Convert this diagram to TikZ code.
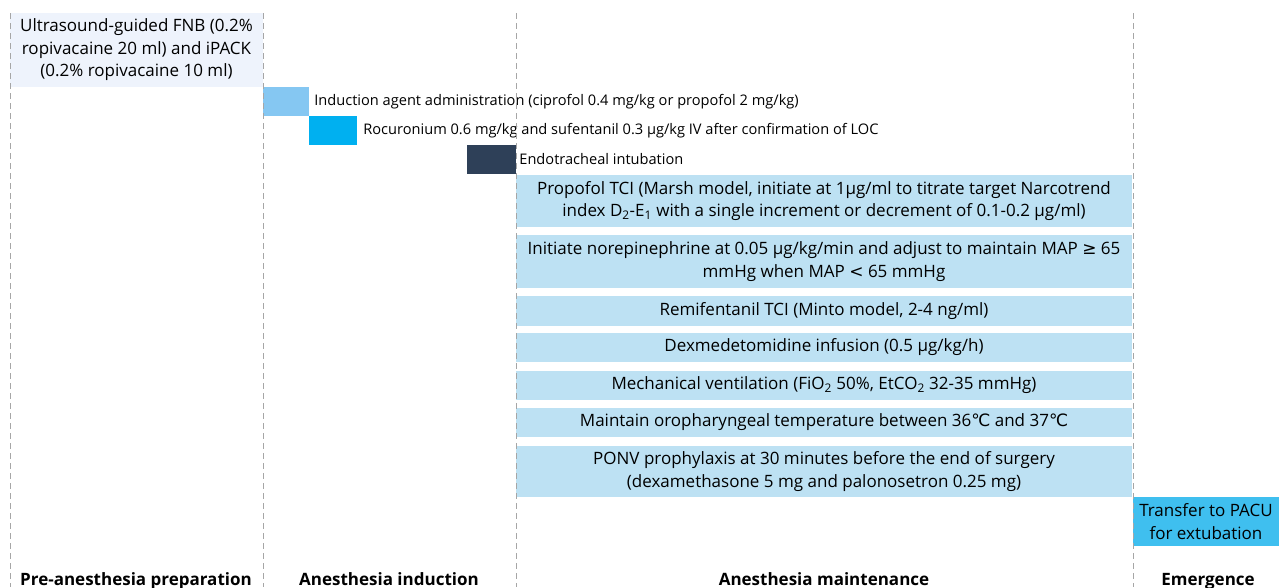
\documentclass[tikz,border=0pt]{standalone}
\usepackage{fontspec}
\setmainfont{Open Sans}
\newfontfamily\symfont{DejaVu Sans}
\usetikzlibrary{positioning}

\definecolor{prepfill}{HTML}{EEF3FC}
\definecolor{inductfill}{HTML}{85C7F2}
\definecolor{rocurfill}{HTML}{00B0F0}
\definecolor{intubfill}{HTML}{2E4058}
\definecolor{maintfill}{HTML}{BDE1F3}
\definecolor{emergfill}{HTML}{3FBFEF}
\definecolor{phaseline}{HTML}{A6A6A6}

\begin{document}
\begin{tikzpicture}[x=1pt,y=-1pt]
\tikzstyle{bar} = [rectangle,draw=none,inner sep=0pt,align=center,font=\fontsize{17}{22.5}\selectfont]
\tikzstyle{maint} = [bar,fill=maintfill,minimum width=616]
\tikzstyle{step label} = [inner sep=0pt,anchor=west,font=\fontsize{14.6}{17}\selectfont]
\tikzstyle{phase} = [inner sep=0pt,anchor=base,font=\fontsize{17}{20}\selectfont\bfseries]

\useasboundingbox (0,0) rectangle (1279,587);

\node[bar,fill=prepfill,minimum width=253,minimum height=74](prep) at (136.5,50)
  {Ultrasound-guided FNB (0.2\%\\ropivacaine 20 ml) and iPACK\\(0.2\% ropivacaine 10 ml)};

\node[bar,fill=inductfill,minimum width=46,minimum height=29](induct) at (286,101.5) {};
\node[step label](inducttext)[right=5pt of induct] {Induction agent administration (ciprofol 0.4 mg/kg or propofol 2 mg/kg)};
\node[bar,fill=rocurfill,minimum width=48,minimum height=29](rocur) at (333,130.5) {};
\node[step label](rocurtext)[right=6pt of rocur] {Rocuronium 0.6 mg/kg and sufentanil 0.3 μg/kg IV after confirmation of LOC};
\node[bar,fill=intubfill,minimum width=49,minimum height=29](intub) at (491.5,159.5) {};
\node[step label](intubtext)[right=3pt of intub] {Endotracheal intubation};

\node[maint,minimum height=52](propofol) at (824,201)
  {Propofol TCI (Marsh model, initiate at 1μg/ml to titrate target Narcotrend\\index D\textsubscript{2}-E\textsubscript{1} with a single increment or decrement of 0.1-0.2 μg/ml)};
\node[maint,minimum height=53](norepi) at (824,261.5)
  {Initiate norepinephrine at 0.05 μg/kg/min and adjust to maintain MAP {\symfont ≥} 65\\mmHg when MAP {\symfont <} 65 mmHg};
\node[maint,minimum height=30](remi) at (824,311) {Remifentanil TCI (Minto model, 2-4 ng/ml)};
\node[maint,minimum height=29](dex) at (824,347.5) {Dexmedetomidine infusion (0.5 μg/kg/h)};
\node[maint,minimum height=29](mech) at (824,385) {Mechanical ventilation (FiO\textsubscript{2} 50\%, EtCO\textsubscript{2} 32-35 mmHg)};
\node[maint,minimum height=29](temp) at (824,422.5) {Maintain oropharyngeal temperature between 36{\symfont ℃} and 37{\symfont ℃}};
\node[maint,minimum height=51](ponv) at (824,471.5)
  {PONV prophylaxis at 30 minutes before the end of surgery\\(dexamethasone 5 mg and palonosetron 0.25 mg)};

\node[bar,fill=emergfill,minimum width=146,minimum height=49](pacu) at (1206,521.5) {Transfer to PACU\\for extubation};

\foreach \x in {10,263,516,1133}
  \draw[phaseline,line width=0.8pt,dash pattern=on 6pt off 4pt] (\x,13) -- (\x,587);

\node[phase](preplabel) at (136,585) {Pre-anesthesia preparation};
\node[phase](inductlabel) at (389,585) {Anesthesia induction};
\node[phase](maintlabel) at (824,585) {Anesthesia maintenance};
\node[phase](emerglabel) at (1208,585) {Emergence};

\end{tikzpicture}
\end{document}
